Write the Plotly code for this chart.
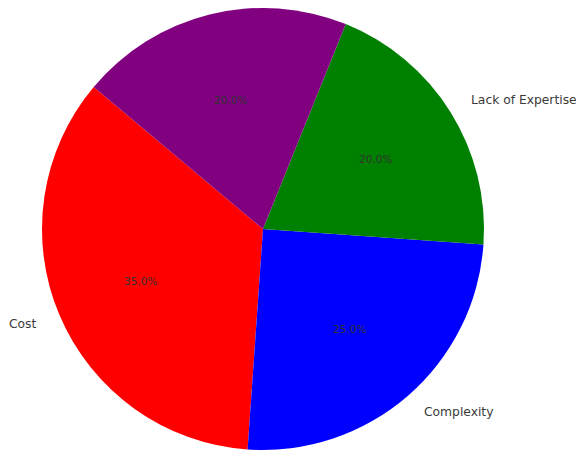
import math
import plotly.graph_objects as go

labels = ["Cost", "Complexity", "Lack of Expertise", "Integration"]
values = [35, 25, 20, 20]
colors = ["red", "blue", "green", "purple"]
start_angle = 140  # matplotlib-style start angle, counterclockwise

W, H = 584, 450
R = 221
cx_px, cy_px = 255, H - R  # pie center (from bottom-left of the figure) in px
total = sum(values)

# plotly's counterclockwise pie: rotation marks the end of the first slice
first_end = start_angle + 360 * values[0] / total
fig = go.Figure(go.Pie(
    labels=labels, values=values, sort=False, direction="counterclockwise",
    rotation=-(first_end - 90),
    marker=dict(colors=colors, line=dict(width=0)),
    textinfo="none", hoverinfo="label+percent", showlegend=False,
    domain=dict(x=[(cx_px - R) / W, (cx_px + R) / W], y=[(cy_px - R) / H, min(1, (cy_px + R) / H)]),
))

ang = start_angle
annotations = []
for lab, v in zip(labels, values):
    span = 360 * v / total
    mid = math.radians(ang + span / 2)
    ang += span
    c, s = math.cos(mid), math.sin(mid)
    annotations.append(dict(
        x=(cx_px + 0.6 * R * c) / W, y=(cy_px + 0.6 * R * s) / H, xref="paper", yref="paper",
        text=f"{100 * v / total:.1f}%", showarrow=False, xanchor="center", yanchor="middle",
        font=dict(family="DejaVu Sans", size=10.5, color="#333333")))
    annotations.append(dict(
        x=(cx_px + 1.1 * R * c) / W, y=(cy_px + 1.1 * R * s) / H, xref="paper", yref="paper",
        text=lab, showarrow=False, xanchor="left" if c > 0 else "right", yanchor="middle",
        font=dict(family="DejaVu Sans", size=12.3, color="#3a3a3a")))

fig.update_layout(
    width=W, height=H, margin=dict(l=0, r=0, t=0, b=0),
    paper_bgcolor="white", plot_bgcolor="white", annotations=annotations,
)
fig.write_html("out.html")
